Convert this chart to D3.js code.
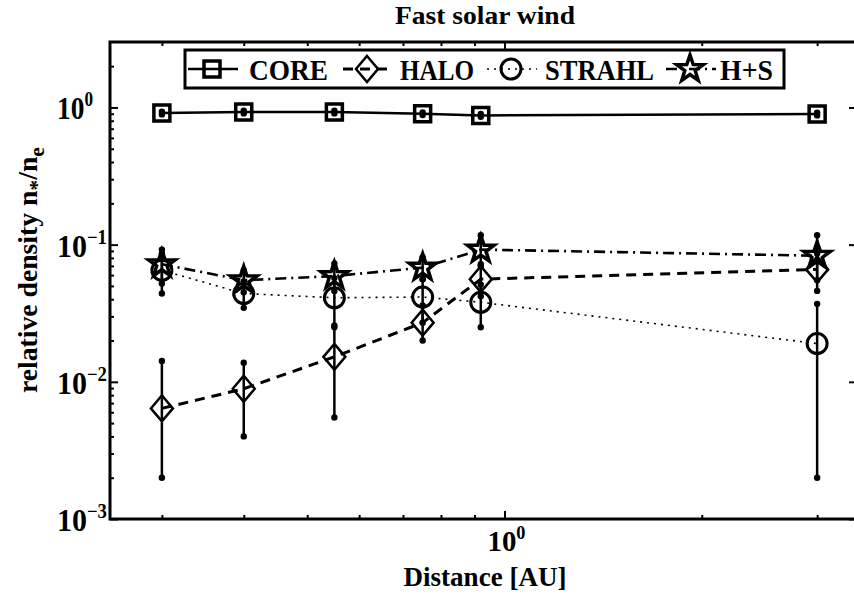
<!DOCTYPE html>
<html>
<head>
<meta charset="utf-8">
<script src="https://cdn.jsdelivr.net/npm/d3@7"></script>
<style>
  body { margin: 0; background: #fff; }
  text { font-family: "Liberation Serif", "Times New Roman", serif; font-weight: bold; fill: #000; }
</style>
</head>
<body>
<div id="chart"></div>
<script>
// distance bins [AU]
var distance = [0.3, 0.4, 0.55, 0.75, 0.92, 3.0];

// relative densities n*/ne with lower / upper error bar ends
var core   = [0.91, 0.925, 0.925, 0.90, 0.875, 0.895];
var coreLo = [0.89, 0.905, 0.905, 0.88, 0.855, 0.875];
var coreHi = [0.93, 0.945, 0.945, 0.92, 0.895, 0.915];

var halo   = [0.0064, 0.0089, 0.0152, 0.027, 0.056, 0.066];
var haloLo = [0.0020, 0.0040, 0.0055, 0.0200, 0.042, 0.046];
var haloHi = [0.0142, 0.0138, 0.0258, 0.036, 0.070, 0.086];

var strahl   = [0.065, 0.044, 0.041, 0.0415, 0.038, 0.019];
var strahlLo = [0.044, 0.0346, 0.025, 0.027, 0.025, 0.002];
var strahlHi = [0.086, 0.054, 0.057, 0.056, 0.051, 0.037];

var hs   = [0.072, 0.055, 0.059, 0.068, 0.092, 0.083];
var hsLo = [0.052, 0.045, 0.046, 0.056, 0.072, 0.055];
var hsHi = [0.092, 0.065, 0.073, 0.081, 0.117, 0.117];

var legendNames = ["CORE", "HALO", "STRAHL", "H+S"];
var xMajor = [1];
var xMinor = [0.3, 0.4, 0.5, 0.6, 0.7, 0.8, 0.9, 2, 3];
var yMajor = [1e-3, 1e-2, 1e-1, 1];
var yExp = ["\u22123", "\u22122", "\u22121", "0"];

var W = 854, H = 597;
var svg = d3.select("#chart").append("svg").attr("width", W).attr("height", H);

var x = d3.scaleLog().domain([0.25, 3.5]).range([110, 861]);
var y = d3.scaleLog().domain([1e-3, 3]).range([519, 42]);

var yMinor = [];
yMajor.forEach(function(d) {
    for (var k = 2; k <= 9; k++) if (d * k < 3) yMinor.push(d * k);
});

// text squeezed horizontally to a given width
function label(parent, tx, ty, size, width, anchor, build, rot) {
    var g = parent.append("g")
        .attr("transform", "translate(" + tx + "," + ty + ")" + (rot ? " rotate(" + rot + ")" : ""));
    var t = g.append("text")
        .attr("font-family", "Liberation Serif, Times New Roman, serif")
        .attr("font-size", size).attr("text-anchor", anchor || "start");
    build(t);
    var len = t.node().getComputedTextLength();
    t.attr("transform", "scale(" + (width / len) + ",1)");
    return g;
}

// markers
function starPath(R, r) {
    var p = d3.range(10).map(function(i) {
        var a = -Math.PI / 2 + i * Math.PI / 5, rr = i % 2 ? r : R;
        return [rr * Math.cos(a), rr * Math.sin(a)];
    });
    return "M" + p.join("L") + "Z";
}
var markers = {
    square: "M-8,-8H8V8H-8Z",
    diamond: "M0,-13L11,0L0,13L-11,0Z",
    circle: d3.symbol(d3.symbolCircle, Math.PI * 100)(),
    star: starPath(14, 5.5)
};

var series = [
    { v: core, lo: coreLo, hi: coreHi, dash: null, w: 2.5, m: "square", mw: 3.5 },
    { v: halo, lo: haloLo, hi: haloHi, dash: "10,7", w: 3, m: "diamond", mw: 2.5 },
    { v: strahl, lo: strahlLo, hi: strahlHi, dash: "2,5", w: 1.6, m: "circle", mw: 3 },
    { v: hs, lo: hsLo, hi: hsHi, dash: "11,5,2,5", w: 2.6, m: "star", mw: 3.5 }
];

// axes ticks (inward, all four sides)
function ticks(axisFn, vals, len, pos) {
    svg.append("g")
        .attr("transform", pos)
        .call(axisFn.tickValues(vals).tickSize(-len).tickFormat(""))
        .call(function(g) {
            g.select(".domain").remove();
            g.selectAll("line").attr("stroke", "#000").attr("stroke-width", 2);
        });
}
ticks(d3.axisBottom(x), xMajor, 8, "translate(0,519)");
ticks(d3.axisBottom(x), xMinor, 4, "translate(0,519)");
ticks(d3.axisTop(x), xMajor, 8, "translate(0,42)");
ticks(d3.axisTop(x), xMinor, 4, "translate(0,42)");
ticks(d3.axisLeft(y), yMajor, 8, "translate(110,0)");
ticks(d3.axisLeft(y), yMinor, 4, "translate(110,0)");
ticks(d3.axisRight(y), yMajor, 12, "translate(861,0)");
ticks(d3.axisRight(y), yMinor, 4, "translate(861,0)");

svg.append("rect")
    .attr("x", 110).attr("y", 42)
    .attr("width", 861 - 110).attr("height", 519 - 42)
    .attr("fill", "none").attr("stroke", "#000").attr("stroke-width", 3);

// data
var line = d3.line().x(function(d) { return x(d[0]); }).y(function(d) { return y(d[1]); });
var plot = svg.append("g");
series.forEach(function(s) {
    var pts = distance.map(function(d, i) { return [d, s.v[i]]; });
    plot.append("path")
        .attr("d", line(pts))
        .attr("fill", "none").attr("stroke", "#000")
        .attr("stroke-width", s.w)
        .attr("stroke-dasharray", s.dash);

    var eb = plot.append("g").selectAll("g").data(distance).enter().append("g");
    eb.append("line")
        .attr("x1", function(d) { return x(d); }).attr("x2", function(d) { return x(d); })
        .attr("y1", function(d, i) { return y(s.lo[i]); })
        .attr("y2", function(d, i) { return y(s.hi[i]); })
        .attr("stroke", "#000").attr("stroke-width", 2.5);
    eb.append("circle")
        .attr("cx", function(d) { return x(d); })
        .attr("cy", function(d, i) { return y(s.lo[i]); })
        .attr("r", 3.2);
    eb.append("circle")
        .attr("cx", function(d) { return x(d); })
        .attr("cy", function(d, i) { return y(s.hi[i]); })
        .attr("r", 3.2);

    plot.append("g").selectAll("path").data(distance).enter().append("path")
        .attr("d", markers[s.m])
        .attr("transform", function(d, i) { return "translate(" + x(d) + "," + y(s.v[i]) + ")"; })
        .attr("fill", "none").attr("stroke", "#000").attr("stroke-width", s.mw);
});

// tick labels
yMajor.forEach(function(d, i) {
    label(svg, 57, y(d) + 12, 32, (i == 3 ? 36 : 50), "start", function(t) {
        t.append("tspan").text("10");
        t.append("tspan").attr("font-size", 20).attr("dy", -13).text(yExp[i]);
    });
});
label(svg, x(1) + 2, 551, 30, 38, "middle", function(t) {
    t.append("tspan").text("10");
    t.append("tspan").attr("font-size", 19).attr("dy", -12).text("0");
});

// titles
label(svg, 485, 24, 26, 180, "middle", function(t) { t.text("Fast solar wind"); });
label(svg, 485, 586, 28, 163, "middle", function(t) { t.text("Distance [AU]"); });
label(svg, 37, 270, 28, 246, "middle", function(t) {
    t.append("tspan").text("relative density n");
    t.append("tspan").attr("font-size", 22).attr("dy", 7).text("*");
    t.append("tspan").attr("dy", -7).text("/n");
    t.append("tspan").attr("font-size", 22).attr("dy", 7).text("e");
}, -90);

// legend
var legX = [212, 367, 511, 690];
var legTextX = [249, 400, 545, 720];
var legTextW = [79, 74, 109, 53];
var leg = svg.append("g");
leg.append("rect")
    .attr("x", 185).attr("y", 50).attr("width", 784 - 185).attr("height", 38)
    .attr("fill", "#fff").attr("stroke", "#000").attr("stroke-width", 3);
series.forEach(function(s, i) {
    leg.append("line")
        .attr("x1", legX[i] - 24).attr("x2", legX[i] + 26)
        .attr("y1", 69).attr("y2", 69)
        .attr("stroke", "#000").attr("stroke-width", s.w)
        .attr("stroke-dasharray", s.dash);
    leg.append("path")
        .attr("d", markers[s.m])
        .attr("transform", "translate(" + legX[i] + ",69)")
        .attr("fill", "none").attr("stroke", "#000").attr("stroke-width", s.mw);
    label(leg, legTextX[i], 80, 30, legTextW[i], "start", function(t) { t.text(legendNames[i]); });
});
</script>
</body>
</html>
